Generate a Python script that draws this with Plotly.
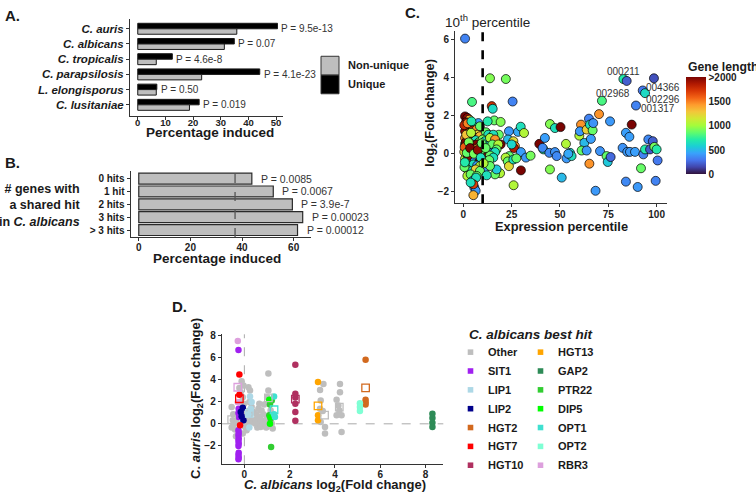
import plotly.graph_objects as go

FONT = "Liberation Sans, Arial, sans-serif"
W, H = 756, 493


def px(x):
    return x / W


def py(y):
    return 1 - y / H


# ---------------- Panel A data ----------------
species = ["C. auris", "C. albicans", "C. tropicalis", "C. parapsilosis",
           "L. elongisporus", "C. lusitaniae"]
unique_pct = [50.5, 34.9, 12.5, 44.1, 6.9, 22.2]
nonunique_pct = [35.8, 31.3, 6.7, 23.1, 6.7, 18.7]
pvals_a = ["P = 9.5e-13", "P = 0.07", "P = 4.6e-8", "P = 4.1e-23", "P = 0.50", "P = 0.019"]
a_ticks = [0, 10, 20, 30, 40, 50]

# ---------------- Panel B data ----------------
hits = ["0 hits", "1 hit", "2 hits", "3 hits", "> 3 hits"]
hits_pct = [43.8, 52.1, 59.5, 63.5, 61.5]
pvals_b = ["P = 0.0085", "P = 0.0067", "P = 3.9e-7", "P = 0.00023", "P = 0.00012"]
baseline_b = 37.3
b_ticks = [0, 20, 40, 60]

# ---------------- Panel C data ----------------
expr_pct = [
    0.9, 13.8, 22.0, 4.5, 14.7, 15.2, 25.5, 16.0, 12.6, 19.3, 23.6, 28.3, 29.7, 31.4, 18.4,
    23.1, 25.9, 26.7, 26.2, 25.0, 19.3, 29.8, 32.4, 34.8, 23.8, 21.9, 23.0, 23.6, 25.9, 27.4,
    19.0, 16.4, 17.2, 26.0, 29.8, 39.3, 41.4, 42.2, 41.0, 44.8, 47.4, 50.3, 44.5, 47.4, 48.3,
    44.8, 50.9, 53.1, 53.4, 55.2, 56.0, 54.3, 60.0, 60.9, 60.3, 62.6, 61.2, 63.8, 63.8, 65.0,
    65.5, 66.9, 67.2, 66.0, 65.2, 70.2, 71.7, 70.7, 75.9, 74.1, 74.7, 76.2, 68.4, 82.8, 84.5,
    87.1, 84.1, 85.9, 82.4, 84.8, 86.2, 88.8, 84.1, 90.2, 89.3, 92.8, 94.0, 98.6, 93.1, 94.0,
    95.7, 96.6, 98.0, 98.8, 100.0, 100.5, 99.5, 91.9,
    0.9, 2.1, 3.1, 1.4, 3.4, 7.8, 5.2, 2.1, 0.9, 4.8, 6.9, 8.6, 2.6, 7.2, 6.0, 8.6, 11.7, 12.9,
    15.5, 0.9, 2.1, 3.4, 4.8, 6.4, 8.1, 10.0, 11.2, 13.8, 16.4, 0.9, 2.6, 3.8, 5.2, 6.9, 8.6,
    10.7, 12.4, 13.8, 15.0, 18.1, 17.2, 1.4, 3.1, 4.8, 6.9, 8.6, 10.3, 12.1, 14.7, 16.4, 1.4,
    3.1, 4.7, 6.4, 8.3, 10.3, 12.1, 13.8, 15.5, 0.9, 2.6, 4.3, 6.0, 8.1, 9.5, 11.2, 13.4, 1.7,
    3.4, 5.2, 7.2, 8.6, 11.2, 13.8, 2.1, 4.3, 6.4, 8.6, 2.1, 3.8, 6.9, 12.1, 4.8, 6.6, 5.7,
    6.4, 5.2, 5.2, 3.8,
    0.5, 0.5, 0.6, 1.2, 1.5, 2.4, 0.7, 1.8, 2.8, 0.8, 3.5, 4.0, 5.5, 7.5, 9.0, 9.5, 10.5,
    11.5, 2.2, 4.2,
]
log2fc_c = [
    6.04, 3.96, 3.92, 2.72, 2.5, 2.36, 2.74, 1.75, 1.7, 1.67, 1.18, 1.15, 1.42, 1.09, 1.0,
    0.75, 0.66, 0.4, 0.3, 0.49, 0.49, 0.09, -0.2, -0.1, -0.12, -0.2, -0.4, -0.65, -0.3, -0.24,
    -1.02, -1.08, -0.82, -1.65, -0.87, 0.52, 0.23, 0.83, 0.31, 1.56, 1.35, 1.4, 0.05, 0.09, -0.12,
    -0.82, -1.25, 0.52, -0.24, 0.05, -0.12, 0.0, 0.95, 1.53, 1.18, 0.57, 0.17, 0.17, 1.27, 1.84,
    1.53, 1.23, 1.61, 0.78, -0.52, 2.08, 2.78, 0.14, 1.7, -0.12, -0.43, -0.17, -1.94, 3.92, 3.82,
    1.53, 1.1, 0.89, 0.31, 0.1, 0.1, 0.1, -1.46, -1.74, 2.53, 3.32, 3.18, 3.96, -0.03, 0.23,
    0.75, 0.23, 0.66, 0.36, 0.23, -0.35, -1.42, -0.76,
    1.96, 1.88, 1.79, 1.65, 1.53, 1.61, 1.44, 1.3, 1.18, 1.23, 1.27, 1.44, 1.06, 1.0, 0.83,
    0.92, 1.13, 1.0, 1.0, 0.83, 0.75, 0.92, 0.75, 0.71, 0.61, 0.75, 0.66, 0.83, 0.75, 0.49,
    0.43, 0.52, 0.4, 0.49, 0.4, 0.4, 0.4, 0.31, 0.49, 0.49, 0.23, 0.23, 0.14, 0.23, 0.26, 0.14,
    0.14, 0.09, 0.05, 0.09, -0.03, -0.12, -0.03, 0.02, -0.09, -0.12, -0.16, -0.09, -0.2, -0.26,
    -0.33, -0.38, -0.3, -0.43, -0.33, -0.38, -0.33, -0.56, -0.64, -0.56, -0.61, -0.64, -0.73,
    -0.64, -0.82, -0.9, -0.82, -0.9, -1.16, -1.08, -1.16, -1.13, -1.42, -1.25, -1.77, -1.94,
    -1.6, -2.17, -1.51,
    1.5, 0.1, -0.7, 0.6, 1.0, -0.1, 0.35, 0.05, 0.6, -0.45, 0.3, 1.1, 0.0, 0.2, -0.2, 0.55,
    -0.5, 0.3, 1.6, 1.7,
]
gene_len = [
    330, 930, 900, 800, 1750, 620, 330, 870, 700, 930, 400, 450, 650, 1040, 870,
    500, 1200, 1450, 1850, 600, 2000, 420, 400, 900, 860, 1040, 870, 1200, 650, 860,
    1040, 870, 550, 1040, 2000, 2000, 700, 420, 350, 930, 650, 2000, 350, 380, 350,
    930, 500, 1040, 400, 600, 650, 450, 1040, 1450, 400, 500, 870, 400, 1250, 330,
    650, 870, 380, 420, 1450, 1450, 800, 380, 400, 860, 550, 250, 400, 700, 220,
    2000, 420, 420, 380, 400, 400, 420, 350, 400, 330, 300, 620, 180, 330, 700,
    350, 200, 220, 900, 700, 300, 330, 870,
    2000, 1950, 1350, 1950, 1250, 420, 650, 600, 1950, 1800, 1450, 870, 1450, 1250, 2000,
    1350, 870, 650, 650, 1450, 1500, 1800, 2000, 650, 870, 900, 650, 1040, 1450, 650,
    870, 1450, 1040, 2000, 1450, 2000, 650, 600, 870, 1040, 870, 400, 650, 870, 1450, 870,
    1450, 870, 400, 650, 650, 1040, 1450, 1800, 1040, 870, 2000, 870, 650, 1040,
    870, 1450, 400, 2000, 2000, 1450, 870, 400, 870, 650, 400, 1040, 400, 870, 870, 650,
    1250, 870, 1040, 870, 870, 650, 400, 650, 400, 400, 1700, 1350, 650,
    1800, 1200, 870, 2000, 1300, 1950, 1600, 860, 900, 700, 2000, 1040, 900, 1950, 650,
    860, 1040, 870, 1500, 700,
]
c_label_ids = ["000211", "002968", "004366", "002296", "001317"]
c_label_x = [82.8, 77.6, 103.1, 103.1, 100.5]
c_label_y = [4.34, 3.18, 3.49, 2.86, 2.38]
c_xticks = [0, 25, 50, 75, 100]
c_yticks = [-2, 0, 2, 4, 6]
len_ticks = [0, 500, 1000, 1500, 2000]
len_ticktext = ["0", "500", "1000", "1500", ">2000"]
percentile_cut = 10

# ---------------- Panel D data ----------------
d_groups = ["Other", "SIT1", "LIP1", "LIP2", "HGT2", "HGT7", "HGT10",
            "HGT13", "GAP2", "PTR22", "DIP5", "OPT1", "OPT2", "RBR3"]
d_colors = ["#bebebe", "#a020f0", "#add8e6", "#00008b", "#d2691e", "#ff0000", "#b03060",
            "#ffa500", "#2e8b57", "#32cd32", "#00ff00", "#40e0d0", "#7fffd4", "#dda0dd"]

other_x = [-0.56, -0.49, -0.51, -0.49, -0.41, -0.37, -0.56, -0.34, -0.12, -0.04, -0.22, -0.16,
           -0.07, -0.19, -0.01, -0.12, 0.03, -0.16, -0.04, 0.1, -0.12, 0.03, 0.1, -0.07, 0.18,
           0.25, 0.22, 0.32, 0.18, 0.25, 0.32, 0.18, 0.4, 0.25,
           0.62, 0.54, 0.69, 0.51, 0.62, 0.72, 0.57, 0.84, 0.81, 0.91, 0.99, 0.87, 0.76, 0.96,
           1.06, 1.06, 1.01, 1.10, 1.16, 1.06, 1.21, 1.25, 0.99, 0.47, 0.66,
           3.34, 3.49, 3.37, 3.34, 3.46, 3.56, 3.56, 3.37, 4.07, 4.15, 4.22, 4.22, 4.07, 4.29,
           4.29, 4.19]
other_y = [1.52, 0.86, 0.32, -0.13, -0.52, -1.13, -0.34, 0.17, 3.87, 3.48, 3.27, 2.88,
           2.43, 1.98, 1.82, 1.37, 1.07, 0.86, 0.47, 0.26, 0.02, -0.28, -0.58, -0.89, 3.33,
           3.03, 1.98, 1.52, 1.16, 0.77, 0.32, 0.02, 1.07, 0.17,
           1.37, 0.86, 0.62, 0.38, 0.08, -0.28, -0.34, 0.86, 0.26, 0.02, 0.47, 1.76, 1.22, -0.34,
           4.59, 3.03, 2.43, 1.82, 1.22, 0.32, 0.02, -0.43, -0.28, 0.02, 1.82,
           3.09, 3.63, 2.13, 1.37, 1.16, -0.28, -0.89, 0.17, 2.18, 1.67, 3.63, 2.88, 0.77, 0.77,
           -0.74, 1.22]
sit1_x = [-0.26, -0.25, -0.26, -0.25, -0.26, -0.25, -0.26, -0.25, -0.26, -0.25, -0.26, -0.25,
          -0.26, -0.25, -0.26]
sit1_y = [6.73, 1.37, 0.98, 0.62, -0.58, -0.83, -1.07, -1.34, -1.55, -1.79, -2.03, -2.63,
          -2.84, -3.06, -3.23]
lip1_x = [0.25, 0.32, 0.28, 0.22, 0.18]
lip1_y = [2.48, 1.98, 1.37, -0.34, 0.86]
lip2_x = [-0.07, -0.12, -0.04, -0.16]
lip2_y = [1.46, 0.68, 0.32, 1.07]
hgt2_x = [5.35, 5.35, 5.35, 5.35]
hgt2_y = [5.83, 2.18, 1.97, 1.76]
hgt7_x = [-0.22, -0.22, -0.19]
hgt7_y = [4.5, 2.64, -0.13]
hgt10_x = [2.25, 2.25, 2.25, 2.25, 2.25, 2.25]
hgt10_y = [5.38, 2.73, 2.4, 1.82, 1.07, 0.27]
hgt13_x = [3.25, 3.25, 3.25]
hgt13_y = [3.81, 0.77, 0.32]
gap2_x = [8.3, 8.3, 8.3, 8.3]
gap2_y = [0.92, 0.53, 0.1, -0.3]
ptr22_x = [1.18, 1.10, 1.16, 1.21, 1.13]
ptr22_y = [-2.1, 0.77, 0.47, 2.13, 1.76]
dip5_x = [1.13, 1.10, 1.15]
dip5_y = [0.0, 2.2, 0.6]
opt1_x = [1.31, 1.31, 1.35]
opt1_y = [2.48, 0.86, 0.62]
opt2_x = [5.1, 5.1, 5.1]
opt2_y = [1.88, 1.52, 1.16]
rbr3_x = [-0.29, -0.29]
rbr3_y = [7.54, 1.97]

d_sq_group = ["Other", "Other", "Other", "Other", "LIP1", "HGT2", "HGT7", "HGT10", "HGT13",
              "OPT1", "RBR3"]
d_sq_x = [-0.56, 1.06, 3.54, 4.19, 0.22, 5.35, -0.22, 2.25, 3.25, 1.31, -0.29]
d_sq_y = [0.38, 2.36, 0.80, 1.52, 0.95, 3.27, 2.28, 2.24, 1.64, 1.28, 3.33]

d_points = {
    "Other": (other_x, other_y), "SIT1": (sit1_x, sit1_y), "LIP1": (lip1_x, lip1_y),
    "LIP2": (lip2_x, lip2_y), "HGT2": (hgt2_x, hgt2_y), "HGT7": (hgt7_x, hgt7_y),
    "HGT10": (hgt10_x, hgt10_y), "HGT13": (hgt13_x, hgt13_y), "GAP2": (gap2_x, gap2_y),
    "PTR22": (ptr22_x, ptr22_y), "DIP5": (dip5_x, dip5_y), "OPT1": (opt1_x, opt1_y),
    "OPT2": (opt2_x, opt2_y), "RBR3": (rbr3_x, rbr3_y),
}
d_xticks = [0, 2, 4, 6, 8]
d_yticks = [-2, 0, 2, 4, 6, 8]

# ---------------- Figure ----------------
fig = go.Figure()

# Panel A bars
fig.add_trace(go.Bar(y=species, x=unique_pct, orientation="h", name="Unique",
                     marker=dict(color="black", line=dict(color="#1a1a1a", width=1)),
                     offset=-0.36, width=0.36, xaxis="x", yaxis="y"))
fig.add_trace(go.Bar(y=species, x=nonunique_pct, orientation="h", name="Non-unique",
                     marker=dict(color="#bebebe", line=dict(color="#1a1a1a", width=1)),
                     offset=0.0, width=0.36, xaxis="x", yaxis="y"))

# Panel B bars
fig.add_trace(go.Bar(y=hits, x=hits_pct, orientation="h",
                     marker=dict(color="#bebebe", line=dict(color="#2a2a2a", width=1.2)),
                     width=0.85, xaxis="x2", yaxis="y2"))

# Panel C scatter
fig.add_trace(go.Scatter(
    x=expr_pct, y=log2fc_c, mode="markers", xaxis="x3", yaxis="y3",
    marker=dict(size=9, color=gene_len, colorscale="Turbo", cmin=0, cmax=2000,
                line=dict(color="black", width=0.7),
                colorbar=dict(x=px(686), xanchor="left", y=py(74), yanchor="top",
                              len=(171.7 - 74) / H, lenmode="fraction",
                              thickness=19.5, thicknessmode="pixels",
                              outlinewidth=0, xpad=0, ypad=0,
                              tickvals=len_ticks, ticktext=len_ticktext, ticks="",
                              tickfont=dict(family=FONT, size=10, color="#222", weight="bold"))),
))

# Panel D scatter
for g, col in zip(d_groups, d_colors):
    xs, ys = d_points[g]
    fig.add_trace(go.Scatter(x=xs, y=ys, mode="markers", xaxis="x4", yaxis="y4",
                             marker=dict(size=6.5, color=col, line=dict(width=0))))
for g, col in zip(d_groups, d_colors):
    sx = [x for x, gg in zip(d_sq_x, d_sq_group) if gg == g]
    sy = [y for y, gg in zip(d_sq_y, d_sq_group) if gg == g]
    if sx:
        fig.add_trace(go.Scatter(x=sx, y=sy, mode="markers", xaxis="x4", yaxis="y4",
                                 marker=dict(size=7.5, color=col, symbol="square-open",
                                             line=dict(width=1.3))))


def ax(**kw):
    d = dict(showgrid=False, zeroline=False, showline=True, linecolor="#333", linewidth=1,
             ticks="outside", ticklen=3, tickcolor="#333", tickwidth=1,
             tickfont=dict(family=FONT, size=10, color="#222", weight="bold"))
    d.update(kw)
    return d


fig.update_layout(
    width=W, height=H, margin=dict(l=0, r=0, t=0, b=0),
    paper_bgcolor="white", plot_bgcolor="white", showlegend=False, barmode="overlay",
    font=dict(family=FONT, color="#222"),
    xaxis=ax(domain=[px(130), px(283)], range=[-2.8, 52.5], tickvals=a_ticks, anchor="y",
             ticklabelstandoff=-6,
             tickfont=dict(family=FONT, size=9.5, color="#222", weight="bold")),
    yaxis=ax(domain=[py(113.3), py(15)], type="category", categoryarray=species,
             range=[5.76, -0.65], anchor="x",
             tickfont=dict(family=FONT, size=11.5, color="#1a1a1a", weight="bold",
                           style="italic")),
    xaxis2=ax(domain=[px(130.5), px(310.7)], range=[-3.2, 66.6], tickvals=b_ticks,
              anchor="y2", ticklabelstandoff=-2),
    yaxis2=ax(domain=[py(235), py(168.3)], type="category", categoryarray=hits,
              range=[4.55, -0.6], anchor="x2",
              tickfont=dict(family=FONT, size=10, color="#1a1a1a", weight="bold")),
    xaxis3=ax(domain=[px(455), px(666.7)], range=[-4.3, 105.2], tickvals=c_xticks,
              anchor="y3", ticklabelstandoff=-1),
    yaxis3=ax(domain=[py(201), py(27)], range=[-2.6, 6.45], tickvals=c_yticks, anchor="x3"),
    xaxis4=ax(domain=[px(221.7), px(443.3)], range=[-1.0, 8.78], tickvals=d_xticks,
              anchor="y4", ticklabelstandoff=-2),
    yaxis4=ax(domain=[py(464), py(333)], range=[-3.68, 8.15], tickvals=d_yticks,
              anchor="x4"),
)

shapes = [
    # B baseline dashed
    dict(type="line", xref="x2", yref="y2 domain", x0=baseline_b, x1=baseline_b, y0=0, y1=1,
         line=dict(color="#555", width=1.3, dash="dash")),
    # C percentile cut
    dict(type="line", xref="x3", yref="y3 domain", x0=percentile_cut, x1=percentile_cut,
         y0=0, y1=1, line=dict(color="black", width=2.6, dash="dash")),
    # D zero lines
    dict(type="line", xref="x4", yref="y4 domain", x0=0, x1=0, y0=0, y1=1, layer="below",
         line=dict(color="#aaaaaa", width=1, dash="dash")),
    dict(type="line", xref="x4 domain", yref="y4", x0=0, x1=1, y0=0, y1=0, layer="below",
         line=dict(color="#aaaaaa", width=1, dash="dash")),
    # A legend keys
    dict(type="rect", xref="paper", yref="paper", x0=px(321), x1=px(339), y0=py(71.7),
         y1=py(52.7), fillcolor="#bebebe", line=dict(color="#333", width=1)),
    dict(type="rect", xref="paper", yref="paper", x0=px(321), x1=px(339), y0=py(90.5),
         y1=py(71.7), fillcolor="black", line=dict(color="#333", width=1)),
]

anns = []


def txt(x, y, text, size, xanchor="center", yanchor="middle", bold=True, angle=0,
        color="#1a1a1a", align="center", italic=False):
    anns.append(dict(xref="paper", yref="paper", x=x, y=y, text=text, showarrow=False,
                     xanchor=xanchor, yanchor=yanchor, textangle=angle, align=align,
                     font=dict(family=FONT, size=size, color=color,
                               weight="bold" if bold else "normal",
                               style="italic" if italic else "normal")))


# panel letters
txt(px(3), py(12), "A.", 15, xanchor="left")
txt(px(3), py(160), "B.", 15, xanchor="left")
txt(px(403), py(9), "C.", 15, xanchor="left")
txt(px(170), py(305), "D.", 15, xanchor="left")

# axis titles
txt(px(210), py(130), "Percentage induced", 13.5)
txt(px(217.5), py(256.7), "Percentage induced", 13.5)
txt(px(82), py(203.5), "# genes with<br>a shared hit<br>in <i>C. albicans</i>", 12.5,
    xanchor="right", align="right")
txt(px(430), py(110), "log<sub>2</sub>(Fold change)", 12.8, angle=-90)
txt(px(561.7), py(224), "Expression percentile", 12.8)
txt(px(443), py(17), "10<sup>th</sup> percentile", 13.5, xanchor="left", bold=False,
    color="#222")
txt(px(686), py(63.3), "Gene length", 12.2, xanchor="left")
txt(px(196.7), py(397.5), "C. <i>auris</i> log<sub>2</sub>(Fold change)", 13, angle=-90)
txt(px(335), py(485), "<i>C. albicans</i> log<sub>2</sub>(Fold change)", 13)

# A legend labels
txt(px(345.5), py(61.5), "Non-unique", 11, xanchor="left")
txt(px(345.5), py(81), "Unique", 11, xanchor="left")

# D legend
txt(px(466.7), py(333.3), "C. albicans best hit", 13.5, xanchor="left", italic=True)
for i, (g, col) in enumerate(zip(d_groups, d_colors)):
    colx = 470.5 if i < 7 else 540.5
    rowy = 351 + 19 * (i % 7)
    shapes.append(dict(type="rect", xref="paper", yref="paper",
                       x0=px(colx - 2.8), x1=px(colx + 2.8), y0=py(rowy + 2.8),
                       y1=py(rowy - 2.8), fillcolor=col, line=dict(width=0)))
    txt(px(colx + 15), py(rowy), g, 11, xanchor="left")

# P-value annotations
for sp, u, n, p in zip(species, unique_pct, nonunique_pct, pvals_a):
    anns.append(dict(xref="x", yref="y", x=max(u, n), y=sp, text=p, showarrow=False,
                     xanchor="left", xshift=2,
                     font=dict(family=FONT, size=10, color="#333")))
for h, v, p in zip(hits, hits_pct, pvals_b):
    anns.append(dict(xref="x2", yref="y2", x=v, y=h, text=p, showarrow=False,
                     xanchor="left", xshift=7,
                     font=dict(family=FONT, size=10.5, color="#333")))
# C gene labels
for lid, lx, ly in zip(c_label_ids, c_label_x, c_label_y):
    anns.append(dict(xref="x3", yref="y3", x=lx, y=ly, text=lid, showarrow=False,
                     font=dict(family=FONT, size=10, color="#333")))

fig.update_layout(shapes=shapes, annotations=anns)
fig.write_html("out.html", config={"displayModeBar": False},
               post_script="document.body.style.margin='0';document.body.style.padding='0';")
